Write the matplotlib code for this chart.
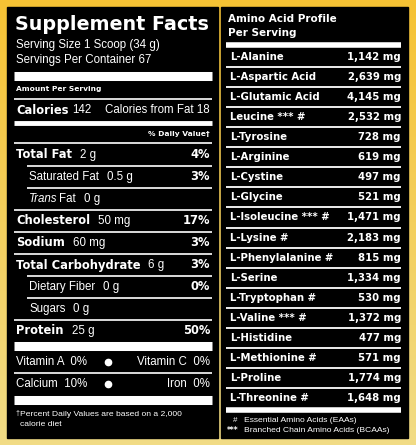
import matplotlib
matplotlib.use("Agg")
import matplotlib.pyplot as plt
import numpy as np
from matplotlib.patches import Rectangle

# ---- data ----
serving_lines = ["Serving Size 1 Scoop (34 g)", "Servings Per Container 67"]
calories = 142
calories_fat = 18
nutrients = ["Total Fat", "Saturated Fat", "Trans Fat", "Cholesterol", "Sodium",
             "Total Carbohydrate", "Dietary Fiber", "Sugars", "Protein"]
amounts = ["2 g", "0.5 g", "0 g", "50 mg", "60 mg", "6 g", "0 g", "0 g", "25 g"]
daily_pct = ["4%", "3%", "", "17%", "3%", "3%", "0%", "", "50%"]
indented = [False, True, True, False, False, False, True, True, False]
vitamins = [("Vitamin A", "0%", "Vitamin C", "0%"), ("Calcium", "10%", "Iron", "0%")]

amino_names = ["L-Alanine", "L-Aspartic Acid", "L-Glutamic Acid", "Leucine *** #",
               "L-Tyrosine", "L-Arginine", "L-Cystine", "L-Glycine", "L-Isoleucine *** #",
               "L-Lysine #", "L-Phenylalanine #", "L-Serine", "L-Tryptophan #",
               "L-Valine *** #", "L-Histidine", "L-Methionine #", "L-Proline", "L-Threonine #"]
amino_mg = [1142, 2639, 4145, 2532, 728, 619, 497, 521, 1471, 2183, 815, 1334,
            530, 1372, 477, 571, 1774, 1648]

W, H = 416, 445
fig = plt.figure(figsize=(W / 100, H / 100), dpi=100)
ax = fig.add_axes([0, 0, 1, 1])
ax.set_xlim(0, W)
ax.set_ylim(H, 0)
ax.axis("off")
renderer = fig.canvas.get_renderer()

# yellow gradient background
grad = np.linspace(0, 1, 256)[:, None]
cmap = matplotlib.colors.LinearSegmentedColormap.from_list("y", ["#F6C234", "#F1DC86"])
ax.imshow(grad, extent=[0, W, H, 0], cmap=cmap, aspect="auto", zorder=0)

ax.add_patch(Rectangle((7, 7), 211, 431, color="black", zorder=1))
ax.add_patch(Rectangle((221, 7), 187, 431, color="black", zorder=1))

REG = "Liberation Sans"
BOLD = "DejaVu Sans"
white = "white"


def txt(x, y, s, size, bold=False, ha="left", italic=False):
    return ax.text(x, y, s, color=white, fontsize=size, ha=ha, va="center",
                   family=BOLD if bold else REG, fontweight="bold" if bold else "normal",
                   style="italic" if italic else "normal", zorder=3)


def right_edge(t):
    # pixel x of the right end of a text (figure px == data units here)
    return t.get_window_extent(renderer).x1


def hline(y, x0, x1, lw):
    ax.plot([x0, x1], [y, y], color=white, lw=lw, solid_capstyle="butt", zorder=2)


# ---- left panel ----
L0, L1 = 14, 212
txt(L0 + 1, 24, "Supplement Facts", 13.8, bold=True)
txt(L0 + 2, 45, serving_lines[0], 8.3)
txt(L0 + 2, 60, serving_lines[1], 8.3)
hline(75.5, L0, L1, 6.5)
txt(L0 + 2, 89, "Amount Per Serving", 5.4, bold=True)
hline(99, L0, L1, 1.2)
t = txt(L0 + 2, 110, "Calories", 8.3, bold=True)
txt(right_edge(t) + 4, 110, str(calories), 8.3)
txt(210, 110, "Calories from Fat %d" % calories_fat, 8.3, ha="right")
hline(123, L0, L1, 3.5)
txt(210, 134, "% Daily Value\u2020", 5.4, bold=True, ha="right")
hline(143, L0, L1, 1.2)

y = 155
for i, name in enumerate(nutrients):
    if name == "Trans Fat":
        t = txt(29, y, "Trans", 8.3, italic=True)
        t = txt(right_edge(t) + 2, y, "Fat", 8.3)
    elif indented[i]:
        t = txt(29, y, name, 8.3)
    else:
        t = txt(L0 + 2, y, name, 8.3, bold=True)
    txt(right_edge(t) + 8, y, amounts[i], 8.3)
    if daily_pct[i]:
        txt(210, y, daily_pct[i], 8.3, bold=True, ha="right")
    if i < len(nutrients) - 1:
        x0 = 27 if indented[i + 1] else L0
        hline(y + 11, x0, L1, 1.2)
    y += 22

hline(345.5, L0, L1, 6.5)
for j, (n1, p1, n2, p2) in enumerate(vitamins):
    yy = 362 + 22 * j
    txt(L0 + 2, yy, "%s  %s" % (n1, p1), 8.3)
    ax.plot(108, yy, "o", color=white, ms=4.5, zorder=3)
    txt(210, yy, "%s  %s" % (n2, p2), 8.3, ha="right")
hline(373, L0, L1, 1.2)
hline(400, L0, L1, 6.5)
txt(L0 + 1, 413, "\u2020", 5)
txt(L0 + 6, 414, "Percent Daily Values are based on a 2,000", 6.1)
txt(L0 + 6, 425, "calorie diet", 6.1)

# ---- right panel ----
R0, R1 = 226, 403
txt(R0 + 2, 19, "Amino Acid Profile", 7.5, bold=True)
txt(R0 + 2, 33, "Per Serving", 7.5, bold=True)
hline(45, R0, R1 - 2, 4)
step = 20.06
for k, (name, mg) in enumerate(zip(amino_names, amino_mg)):
    yy = 57 + k * step
    txt(R0 + 4, yy, name, 7.3, bold=True)
    txt(R1 - 2, yy, "{:,} mg".format(mg), 7.3, bold=True, ha="right")
    if k < len(amino_names) - 1:
        hline(yy + step / 2, R0, R1 - 2, 1.3)
hline(410, R0, R1 - 2, 4)
txt(R0 + 7, 420, "#", 5.8)
txt(R0 + 18, 420, "Essential Amino Acids (EAAs)", 6.1)
txt(R0 + 1, 431, "***", 5.5, bold=True)
txt(R0 + 18, 431, "Branched Chain Amino Acids (BCAAs)", 6.1)

fig.savefig("out.png", dpi=100)
